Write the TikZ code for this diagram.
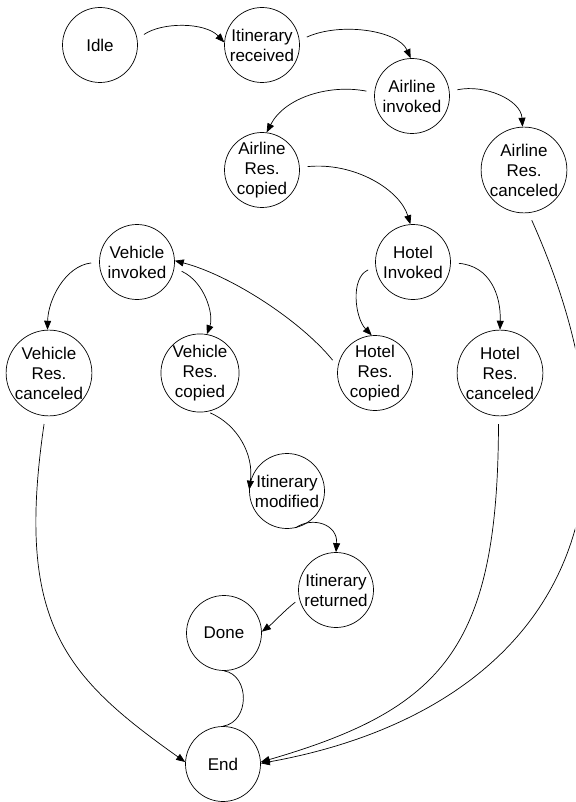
\documentclass[tikz,border=0pt]{standalone}
\usepackage{fontspec}
\setmainfont{Liberation Sans}
\usetikzlibrary{arrows.meta}
\begin{document}
\begin{tikzpicture}[x=1pt,y=-1pt,
  state/.style={draw, circle, line width=0.7pt, minimum size=75pt, inner sep=0pt,
    align=center, font=\fontsize{17}{20}\selectfont},
  edge/.style={line width=0.7pt, -{Triangle[length=9pt,width=7pt]}, shorten <=8pt},
  link/.style={line width=0.7pt}]
\useasboundingbox (0,0) rectangle (575,802);
\clip (0,0) rectangle (575,802);
\fill[white] (0,0) rectangle (575,802);

% states
\node[state] (idle)   at (100,45)  {Idle};
\node[state] (ir)     at (262,45)  {Itinerary\\received};
\node[state] (ai)     at (412,96)  {Airline\\invoked};
\node[state] (arc)    at (262,170) {Airline\\Res.\\copied};
\node[state] (arcan)  at (524,170) {Airline\\Res.\\canceled};
\node[state] (hi)     at (413,262) {Hotel\\Invoked};
\node[state] (vi)     at (137,262) {Vehicle\\invoked};
\node[state] (vrcan)  at (49,373)  {Vehicle\\Res.\\canceled};
\node[state] (vrc)    at (200,373) {Vehicle\\Res.\\copied};
\node[state] (hrc)    at (375,373) {Hotel\\Res.\\copied};
\node[state] (hrcan)  at (500,373) {Hotel\\Res.\\canceled};
\node[state] (im)     at (287,491) {Itinerary\\modified};
\node[state] (iret)   at (336,590) {Itinerary\\returned};
\node[state] (done)   at (224,633) {Done};
\node[state] (end)    at (223,764) {End};

% transitions
\draw[edge] (idle.9) .. controls (162,22) and (205,22) .. (ir.176);
\draw[edge] (ir.7) .. controls (340,22) and (398,30) .. (ai.92);
\draw[edge] (ai.175) .. controls (330,84) and (285,97) .. (arc.83);
\draw[edge] (ai.7) .. controls (485,84) and (521,100) .. (arcan.92);
\draw[edge] (arc.4) .. controls (355,162) and (400,190) .. (hi.94);
\draw[edge] (arcan.-84) .. controls (677,545) and (513,718) .. (end.1);
\draw[edge] (hi.187) .. controls (350,278) and (355,318) .. (hrc.95);
\draw[edge] (hi.-1) .. controls (490,266) and (501,295) .. (hrcan.90);
\draw[edge] (hrcan.-92) .. controls (498,648) and (443,709) .. (end.3);
\draw[edge] (hrc.170) .. controls (300,320) and (230,275) .. (vi.2);
\draw[edge] (vi.-9) .. controls (205,282) and (214,315) .. (vrc.80);
\draw[edge] (vi.180) .. controls (65,266) and (48,300) .. (vrcan.92);
\draw[edge] (vrcan.-95) .. controls (15,622) and (64,676) .. (end.177);
\draw[edge, shorten <=3pt] (vrc.-79) .. controls (238,425) and (254,455) .. (im.178);
\draw[edge, shorten <=0pt] (im.-77) .. controls (312,516) and (338,524) .. (iret.90);
\draw[edge, shorten <=5pt] (iret.194) .. controls (285,610) and (272,624) .. (done.2);
\draw[link] (done.-90) .. controls (250,675) and (250,722) .. (end.90);
\end{tikzpicture}
\end{document}
